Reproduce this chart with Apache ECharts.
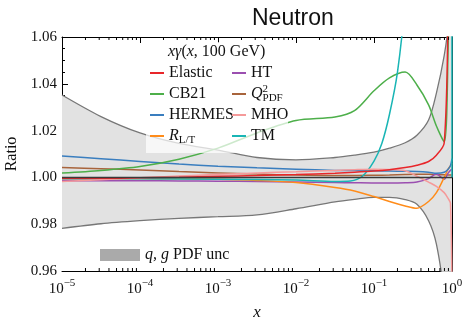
<!DOCTYPE html>
<html style="height: 100%">
<head>
	<meta charset="utf-8">
</head>
<body style="height: 100%; margin: 0; background: #fff">
<div id="container" style="width: 466px; height: 320px"></div>
<script type="text/javascript" src="https://cdn.jsdelivr.net/npm/echarts@6/dist/echarts.min.js"></script>
<script type="text/javascript">
    // x grid (log spaced)
    var xs = [1e-5, 3.16e-5, 1e-4, 3.16e-4, 1e-3, 3.16e-3, 0.01, 0.0316, 0.0562, 0.1, 0.158, 0.251, 0.355, 0.501, 0.631, 0.794, 0.891, 0.955, 1.0];

    var elastic = [0.9995, 0.9996, 0.9998, 1.0001, 1.0005, 1.0008, 1.0012, 1.0018, 1.0022, 1.0027, 1.0033, 1.0042, 1.0052, 1.0068, 1.0095, 1.0147, 1.07, 1.15, 1.3];
    var cb21 = [1.0019, 1.003, 1.0047, 1.0078, 1.0125, 1.019, 1.0243, 1.0258, 1.0285, 1.037, 1.0425, 1.045, 1.0395, 1.031, 1.022, 1.0152, 1.055, 1.12, 1.2];
    var hermes = [1.0091, 1.008, 1.0068, 1.0057, 1.0048, 1.0041, 1.0035, 1.003, 1.0029, 1.0028, 1.0027, 1.0026, 1.0025, 1.0022, 1.0018, 1.0022, 1.0035, 1.005, 1.008];
    var rlt = [0.9996, 0.9996, 0.9995, 0.9994, 0.9992, 0.9987, 0.9978, 0.9957, 0.9942, 0.9918, 0.9897, 0.9878, 0.9868, 0.9897, 0.9935, 1.0, 1.0035, 1.005, 1.006];
    var ht = [0.9986, 0.9986, 0.9986, 0.9985, 0.9984, 0.9982, 0.998, 0.9978, 0.9977, 0.9976, 0.9976, 0.9977, 0.998, 0.9995, 1.0015, 0.9992, 1.0018, 1.003, 1.0035];
    var q2pdf = [1.0042, 1.0037, 1.0032, 1.0025, 1.0019, 1.0014, 1.001, 1.0008, 1.0008, 1.0009, 1.001, 1.0012, 1.0013, 1.0013, 1.0012, 1.0011, 1.001, 1.001, 1.001];
    var mho = [0.9982, 0.999, 0.9998, 1.0006, 1.0013, 1.0019, 1.0024, 1.003, 1.0033, 1.0035, 1.0034, 1.0028, 1.0005, 0.998, 0.9962, 0.9935, 0.991, 0.989, 0.95];
    var bandHi = [1.0352, 1.026, 1.019, 1.0145, 1.0117, 1.0085, 1.0075, 1.0085, 1.0095, 1.0108, 1.0125, 1.0148, 1.018, 1.0245, 1.036, 1.052, 1.065, 1.09, 1.15];
    var bandLo = [0.9782, 0.9802, 0.9815, 0.9825, 0.9832, 0.984, 0.9866, 0.9895, 0.9906, 0.9915, 0.9915, 0.9905, 0.9885, 0.9815, 0.9715, 0.95, 0.93, 0.91, 0.9];

    // TM has its own sampling (steep rise)
    var tmX = [1e-5, 1e-4, 1e-3, 0.01, 0.0316, 0.05, 0.0708, 0.1, 0.126, 0.158, 0.2, 0.251, 0.316, 0.977, 1.0];
    var tmY = [0.9994, 0.9994, 0.9992, 0.9989, 0.9983, 0.9985, 1.0005, 1.007, 1.0145, 1.027, 1.045, 1.075, 1.12, 1.3, 1.0];

    var yTicks = [0.96, 0.98, 1.00, 1.02, 1.04, 1.06];

    var names = ['Elastic', 'CB21', 'HERMES', 'RLT', 'HT', 'Q2PDF', 'MHO', 'TM'];
    var colors = {
        Elastic: '#e8262a', CB21: '#4daf4a', HERMES: '#3a7ebf', RLT: '#ff8c1a',
        HT: '#9b4fb0', Q2PDF: '#a8643c', MHO: '#f59a9a', TM: '#19b5b5'
    };
    var labels = {
        Elastic: 'Elastic', CB21: 'CB21', HERMES: 'HERMES', RLT: '{m|R}{sub|L/T}',
        HT: 'HT', Q2PDF: '{m|Q}{sup|2}{sub|PDF}', MHO: 'MHO', TM: 'TM',
        band: '{m|q, g} PDF unc'
    };

    var SERIF = 'Liberation Serif';
    var SMOOTH = 0.3;

    function pairs(x, y) {
        var out = [];
        for (var i = 0; i < x.length; i++) out.push([x[i], y[i]]);
        return out;
    }

    // minor tick positions on the log axis (2..9 per decade)
    var minorX = [];
    for (var e = -5; e < 0; e++) {
        for (var k = 2; k <= 9; k++) minorX.push([k * Math.pow(10, e), 1]);
    }

    function lineSeries(name, data) {
        return {
            name: name,
            type: 'line',
            data: data,
            smooth: SMOOTH,
            showSymbol: false,
            clip: true,
            z: 3,
            itemStyle: { color: colors[name] },
            lineStyle: { color: colors[name], width: 1.5 }
        };
    }

    var legendText = {
        fontFamily: SERIF, fontSize: 16, color: '#111', lineHeight: 20,
        rich: {
            m: { fontFamily: SERIF, fontStyle: 'italic', fontSize: 16, lineHeight: 20, color: '#111' },
            sub: { fontFamily: SERIF, fontSize: 11, lineHeight: 12, verticalAlign: 'bottom', color: '#111' },
            sup: { fontFamily: SERIF, fontSize: 11, lineHeight: 12, verticalAlign: 'top', width: 0, color: '#111' }
        }
    };
    function legendFmt(n) { return labels[n]; }

    var dom = document.getElementById('container');
    var myChart = echarts.init(dom, null, { renderer: 'canvas' });

    var option = {
        backgroundColor: '#fff',
        animation: false,
        title: [{
            text: 'Neutron',
            left: 247,
            top: 2,
            textStyle: { fontFamily: 'Liberation Sans', fontSize: 23, fontWeight: 'normal', color: '#111' }
        }, {
            text: '{i|xγ}{n|(}{i|x}{n|, 100 GeV)}',
            left: 168,
            top: 44,
            padding: 0,
            z: 6,
            textStyle: {
                fontWeight: 'normal',
                rich: {
                    i: { fontFamily: SERIF, fontStyle: 'italic', fontWeight: 'normal', fontSize: 16, color: '#111' },
                    n: { fontFamily: SERIF, fontWeight: 'normal', fontSize: 16, color: '#111' }
                }
            }
        }],
        graphic: [{
            type: 'rect',
            silent: true,
            z: 4,
            shape: { x: 146, y: 42, width: 142, height: 111 },
            style: { fill: 'rgba(255,255,255,0.72)' }
        }],
        legend: [{
            data: names.slice(0, 4),
            orient: 'vertical', left: 150, top: 63, padding: 0, itemGap: 1,
            itemWidth: 14, itemHeight: 2, icon: 'rect', selectedMode: false,
            formatter: legendFmt, textStyle: legendText, z: 6
        }, {
            data: names.slice(4),
            orient: 'vertical', left: 232, top: 63, padding: 0, itemGap: 1,
            itemWidth: 14, itemHeight: 2, icon: 'rect', selectedMode: false,
            formatter: legendFmt, textStyle: legendText, z: 6
        }, {
            data: [{ name: 'band', itemStyle: { color: '#aaaaaa' } }],
            left: 100, top: 245, padding: 0,
            itemWidth: 40, itemHeight: 12, icon: 'rect', selectedMode: false,
            formatter: legendFmt, textStyle: legendText
        }],
        grid: { left: 62, right: 14, top: 37, bottom: 49, outerBoundsMode: 'none' },
        xAxis: [{
            type: 'log', logBase: 10, min: 1e-5, max: 1, interval: 1,
            name: 'x', nameLocation: 'middle', nameGap: 33,
            nameTextStyle: { fontFamily: SERIF, fontStyle: 'italic', fontSize: 17, color: '#111' },
            axisLine: { show: true, onZero: false, lineStyle: { color: '#000', width: 1 } },
            axisTick: { show: true, inside: true, length: 6, lineStyle: { color: '#000' } },
            minorTick: { show: false },
            splitLine: { show: false },
            axisLabel: {
                margin: 7,
                formatter: function (v) {
                    var p = Math.round(Math.log10(v));
                    return '{b|10}{s|' + (p < 0 ? '\u2212' + (-p) : p) + '}';
                },
                rich: {
                    b: { fontFamily: SERIF, fontSize: 15, lineHeight: 22, color: '#111' },
                    s: { fontFamily: SERIF, fontSize: 11, lineHeight: 12, verticalAlign: 'top', color: '#111' }
                }
            }
        }, {
            type: 'log', logBase: 10, min: 1e-5, max: 1, interval: 1, position: 'top',
            axisLine: { show: true, onZero: false, lineStyle: { color: '#000', width: 1 } },
            axisTick: { show: true, inside: true, length: 6, lineStyle: { color: '#000' } },
            axisLabel: { show: false },
            splitLine: { show: false }
        }],
        yAxis: [{
            type: 'value', min: yTicks[0], max: yTicks[yTicks.length - 1], interval: 0.02,
            name: 'Ratio', nameLocation: 'middle', nameGap: 35,
            nameTextStyle: { fontFamily: SERIF, fontSize: 16, color: '#111' },
            axisLine: { show: true, onZero: false, lineStyle: { color: '#000', width: 1 } },
            axisTick: { show: true, inside: true, length: 6, lineStyle: { color: '#000' } },
            minorTick: { show: true, splitNumber: 4, length: 3, lineStyle: { color: '#000' } },
            splitLine: { show: false },
            axisLabel: {
                margin: 5,
                fontFamily: SERIF, fontSize: 15, color: '#111',
                formatter: function (v) { return v.toFixed(2); }
            }
        }, {
            type: 'value', min: yTicks[0], max: yTicks[yTicks.length - 1], interval: 0.02, position: 'right',
            axisLine: { show: true, onZero: false, lineStyle: { color: '#000', width: 1 } },
            axisTick: { show: true, inside: true, length: 6, lineStyle: { color: '#000' } },
            minorTick: { show: true, splitNumber: 4, length: 3, lineStyle: { color: '#000' } },
            splitLine: { show: false },
            axisLabel: { show: false }
        }],
        series: [{
            // upper edge of the q,g band: gray fill down to the axis
            name: 'band',
            type: 'line',
            data: pairs(xs, bandHi),
            smooth: SMOOTH,
            showSymbol: false,
            itemStyle: { color: '#aaaaaa' },
            lineStyle: { color: '#777', width: 1.3 },
            areaStyle: { color: '#e2e2e2', opacity: 1, origin: 'start' },
            z: 1
        }, {
            // lower edge: white fill below it cuts the band out
            name: 'bandLo',
            type: 'line',
            data: pairs(xs, bandLo),
            smooth: SMOOTH,
            showSymbol: false,
            lineStyle: { color: '#777', width: 1.3 },
            areaStyle: { color: '#ffffff', opacity: 1, origin: 'start' },
            z: 1,
            markLine: {
                silent: true, symbol: 'none', label: { show: false },
                lineStyle: { color: '#3a3a3a', width: 1.3, type: 'solid' },
                data: [{ yAxis: 1 }]
            }
        },
            lineSeries('Q2PDF', pairs(xs, q2pdf)),
            lineSeries('HT', pairs(xs, ht)),
            lineSeries('RLT', pairs(xs, rlt)),
            lineSeries('HERMES', pairs(xs, hermes)),
            lineSeries('CB21', pairs(xs, cb21)),
            lineSeries('TM', pairs(tmX, tmY)),
            lineSeries('MHO', pairs(xs, mho)),
            lineSeries('Elastic', pairs(xs, elastic)),
        {
            name: 'minorTicks',
            type: 'custom',
            silent: true,
            clip: false,
            z: 5,
            data: minorX,
            encode: { x: 0, y: 1 },
            renderItem: function (params, api) {
                var b = api.coord([api.value(0), yTicks[0]]);
                var t = api.coord([api.value(0), yTicks[yTicks.length - 1]]);
                return {
                    type: 'group',
                    children: [{
                        type: 'line',
                        shape: { x1: b[0], y1: b[1], x2: b[0], y2: b[1] - 3 },
                        style: { stroke: '#000', lineWidth: 1 }
                    }, {
                        type: 'line',
                        shape: { x1: t[0], y1: t[1], x2: t[0], y2: t[1] + 3 },
                        style: { stroke: '#000', lineWidth: 1 }
                    }]
                };
            }
        }]
    };

    myChart.setOption(option, true);
</script>
</body>
</html>
